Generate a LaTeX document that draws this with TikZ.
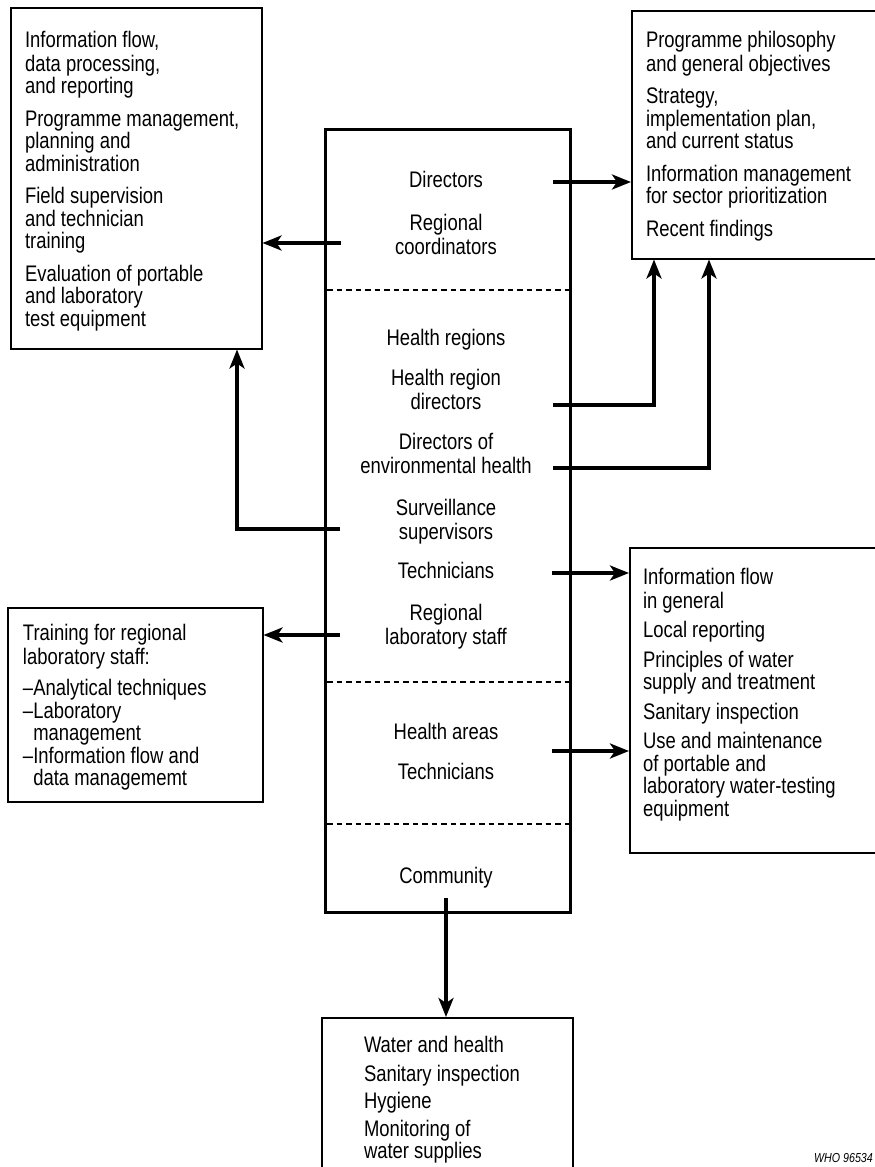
\documentclass[tikz,border=0pt]{standalone}
\usepackage{fontspec}
\setmainfont{Liberation Sans}[FakeStretch=0.82]
\usetikzlibrary{arrows.meta}
\begin{document}
\begin{tikzpicture}[x=1pt,y=-1pt,
  txt/.style={font=\fontsize{22.5}{22.5}\selectfont, inner sep=0pt, outer sep=0pt},
  boxtext/.style={txt, anchor=north west, align=left},
  label/.style={txt, anchor=north, align=center},
  thinbox/.style={draw, line width=1.5pt, anchor=north west, inner sep=0pt},
  levelbox/.style={draw, line width=3pt, anchor=north west, inner sep=0pt},
  link/.style={line width=3.4pt, -{Stealth[length=19pt,width=15pt,inset=5pt]}},
  levelsep/.style={line width=1.2pt, dash pattern=on 5.5pt off 4pt},
]
\useasboundingbox (0,0) rectangle (875,1167);
\clip (0,0) rectangle (875,1167);

% ---- boxes ----
\node[thinbox, minimum width=251pt, minimum height=341pt] (tl) at (10,7) {};
\node[thinbox, minimum width=300pt, minimum height=248pt] (tr) at (631,10) {};
\node[thinbox, minimum width=300pt, minimum height=305pt] (rm) at (629,547) {};
\node[thinbox, minimum width=255pt, minimum height=194pt] (lm) at (7,607) {};
\node[thinbox, minimum width=251pt, minimum height=200pt] (bt) at (321,1017) {};
\node[levelbox, minimum width=245pt, minimum height=783pt] (cb) at (324,128) {};

% ---- box contents ----
\node[boxtext] (tltext) at (25,30.75) {\strut Information flow,\\ data processing,\\ and reporting\\[10pt]
  Programme management,\\ planning and\\ administration\\[10pt]
  Field supervision\\ and technician\\ training\\[10pt]
  Evaluation of portable\\ and laboratory\\ test equipment};

\node[boxtext] (trtext) at (646,30.75) {\strut Programme philosophy\\ and general objectives\\[10pt]
  Strategy,\\ implementation plan,\\ and current status\\[10pt]
  Information management\\ for sector prioritization\\[10pt]
  Recent findings};

\node[boxtext] (rmtext) at (643,567.75) {\strut Information flow\\ in general\\[7pt]
  Local reporting\\[7pt]
  Principles of water\\ supply and treatment\\[7pt]
  Sanitary inspection\\[7pt]
  Use and maintenance\\ of portable and\\ laboratory water-testing\\ equipment};

\node[boxtext] (lmtext) at (23,623.75) {\strut Training for regional\\ laboratory staff:\\[9pt]
  --Analytical techniques\\ --Laboratory\\ \hphantom{--}management\\
  --Information flow and\\ \hphantom{--}data managememt};

\node[boxtext] (bttext) at (364,1035.75) {\strut Water and health\\[5pt]
  Sanitary inspection\\[5pt]
  Hygiene\\[5pt]
  Monitoring of\\ water supplies};

% ---- levels inside the central box ----
\node[label] (dir)  at (446,170.75) {\strut Directors};
\node[label] (rco)  at (446,213.75) {\strut Regional\\ coordinators};
\node[label] (hreg) at (446,328.75) {\strut Health regions};
\node[label] (hrd)  at (446,368.75) {\strut Health region\\ directors};
\node[label] (deh)  at (446,432.75) {\strut Directors of\\ environmental health};
\node[label] (sup)  at (446,498.75) {\strut Surveillance\\ supervisors};
\node[label] (tec)  at (446,561.75) {\strut Technicians};
\node[label] (rls)  at (446,603.75) {\strut Regional\\ laboratory staff};
\node[label] (har)  at (446,722.75) {\strut Health areas};
\node[label] (tea)  at (446,762.75) {\strut Technicians};
\node[label] (com)  at (446,866.75) {\strut Community};

% dashed separators between levels
\coordinate (d1) at (446,290);
\coordinate (d2) at (446,682);
\coordinate (d3) at (446,824);
\foreach \d in {d1,d2,d3}
  \draw[levelsep] ([xshift=3pt]\d -| cb.west) -- ([xshift=-3pt]\d -| cb.east);

% ---- connectors ----
\coordinate (a1) at (553,182);
\draw[link] (a1) -- (a1 -| tr.west);

\coordinate (a2) at (341,243);
\draw[link] (a2) -- (a2 -| tl.east);

\coordinate (a3) at (553,405);
\coordinate (k3) at (654,405);
\draw[link] (a3) -- (k3) -- (k3 |- tr.south);

\coordinate (a4) at (553,468);
\coordinate (k4) at (709,468);
\draw[link] (a4) -- (k4) -- (k4 |- tr.south);

\coordinate (a5) at (340,529);
\coordinate (k5) at (237,529);
\draw[link] (a5) -- (k5) -- (k5 |- tl.south);

\coordinate (a6) at (552,573);
\draw[link] (a6) -- (a6 -| rm.west);

\coordinate (a7) at (340,635);
\draw[link] (a7) -- (a7 -| lm.east);

\coordinate (a8) at (552,751);
\draw[link] (a8) -- (a8 -| rm.west);

\coordinate (a9) at (446,898);
\draw[link] (a9) -- (a9 |- bt.north);

% figure reference
\node[font=\itshape\fontsize{13}{15}\selectfont, anchor=base east, inner sep=0pt] (who) at (873,1162) {WHO 96534};
\end{tikzpicture}
\end{document}
